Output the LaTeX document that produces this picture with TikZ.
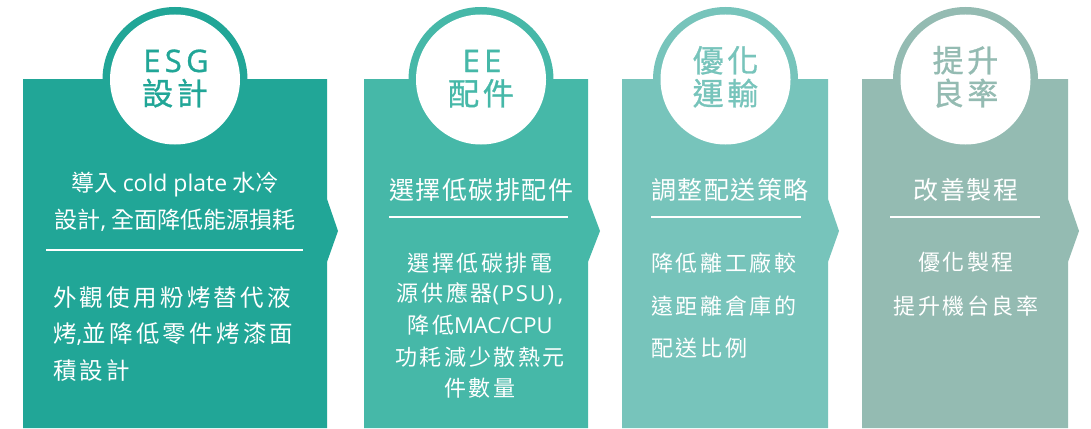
\documentclass[tikz,border=0pt]{standalone}
\usepackage{fontspec}
\setmainfont{Noto Sans CJK TC}
\newfontfamily\circfont[LetterSpace=12,FakeBold=1]{Noto Sans CJK TC}
\newfontfamily\circlatin[LetterSpace=14,FakeBold=1]{Open Sans}
\newfontfamily\bodyAfont[LetterSpace=14]{Noto Sans CJK TC}
\newfontfamily\bodyBfont[LetterSpace=12]{Noto Sans CJK TC}
\newfontfamily\titleBfont[LetterSpace=6]{Noto Sans CJK TC}
\newfontfamily\titleAfont{Noto Sans CJK TC}
\newfontfamily\latinfont{Open Sans}
\newfontfamily\latinspaced[LetterSpace=8]{Open Sans}
\definecolor{cA}{HTML}{21A697}
\definecolor{cB}{HTML}{46B8A8}
\definecolor{cC}{HTML}{77C4BB}
\definecolor{cD}{HTML}{94BBB2}
\tikzset{
  ctitle/.style={font=\circfont\fontsize{31}{34}\selectfont, anchor=base, inner sep=0},
  ctlatin/.style={font=\circlatin\fontsize{31}{34}\selectfont, anchor=base, inner sep=0},
  ttlA/.style={font=\titleAfont\fontsize{23}{26}\selectfont, text=white, anchor=base, inner sep=0},
  ttlB/.style={font=\titleBfont\fontsize{25}{28}\selectfont, text=white, anchor=base, inner sep=0},
  bodyA/.style={font=\bodyAfont\fontsize{23.5}{26}\selectfont, text=white, anchor=base west, inner sep=0},
  bodyB/.style={font=\bodyBfont\fontsize{22}{25}\selectfont, text=white, anchor=base, inner sep=0},
  bodyBL/.style={font=\bodyBfont\fontsize{22}{25}\selectfont, text=white, anchor=base west, inner sep=0},
  sepline/.style={draw=white, line width=2.5pt},
}
\begin{document}
\begin{tikzpicture}[x=1pt,y=-1pt]
\useasboundingbox (0,0) rectangle (1091,428);
\fill[white] (0,0) rectangle (1091,428);
% panels
\fill[cA] (23,79) -- (327,79) -- (327,199) -- (338,231) -- (327,262) -- (327,428) -- (23,428) -- cycle;
\fill[cB] (364,79) -- (588,79) -- (588,199) -- (600,231) -- (588,262) -- (588,428) -- (364,428) -- cycle;
\fill[cC] (622,79) -- (828,79) -- (828,199) -- (839,231) -- (828,262) -- (828,428) -- (622,428) -- cycle;
\fill[cD] (862,79) -- (1068,79) -- (1068,199) -- (1079,231) -- (1068,262) -- (1068,428) -- (862,428) -- cycle;
% circles
\fill[cA] (175,79.5) circle (72.5);
\fill[white] (175,79.5) circle (65);
\fill[cB] (481,79.5) circle (72.5);
\fill[white] (481,79.5) circle (65);
\fill[cC] (725.5,79.5) circle (72.5);
\fill[white] (725.5,79.5) circle (65);
\fill[cD] (965.5,79.5) circle (72.5);
\fill[white] (965.5,79.5) circle (65);
% circle titles
\node[ctlatin, text=cA] (a1) at (176,72) {ESG};
\node[ctitle, text=cA] (a2) at (175,105) {設計};
\node[ctlatin, text=cB] (b1) at (482,72) {EE};
\node[ctitle, text=cB] (b2) at (481,105) {配件};
\node[ctitle, text=cC] (c1) at (725.5,72) {優化};
\node[ctitle, text=cC] (c2) at (725.5,105) {運輸};
\node[ctitle, text=cD] (d1) at (965.5,72) {提升};
\node[ctitle, text=cD] (d2) at (965.5,105) {良率};
% panel 1
\node[ttlA] (at1) at (175,191) {導入 {\latinfont cold plate} 水冷};
\node[ttlA] (at2) at (175,228) {設計{\latinfont ,} 全面降低能源損耗};
\draw[sepline] (46,250) -- (303,250);
\node[bodyA] (ab1) at (53,306) {外觀使用粉烤替代液};
\node[bodyA] (ab2) at (53,342) {烤{\latinfont ,}並降低零件烤漆面};
\node[bodyA] (ab3) at (53,379) {積設計};
% panel 2
\node[ttlB] (bt1) at (481,199) {選擇低碳排配件};
\draw[sepline] (389,217) -- (568,217);
\node[bodyB] (bb1) at (480,271) {選擇低碳排電};
\node[bodyB] (bb2) at (480,301) {源供應器{\latinspaced (PSU)\,,}};
\node[bodyB] (bb3) at (480,333) {降低{\latinfont MAC/CPU}};
\node[bodyB] (bb4) at (480,365) {功耗減少散熱元};
\node[bodyB] (bb5) at (480,396) {件數量};
% panel 3
\node[ttlB] (ct1) at (730,199) {調整配送策略};
\draw[sepline] (651,217) -- (801,217);
\node[bodyBL] (cb1) at (651,271) {降低離工廠較};
\node[bodyBL] (cb2) at (651,314) {遠距離倉庫的};
\node[bodyBL] (cb3) at (651,356) {配送比例};
% panel 4
\node[ttlB] (dt1) at (966,199) {改善製程};
\draw[sepline] (890,217) -- (1040,217);
\node[bodyB] (db1) at (966,270) {優化製程};
\node[bodyB] (db2) at (966,314) {提升機台良率};
\end{tikzpicture}
\end{document}
